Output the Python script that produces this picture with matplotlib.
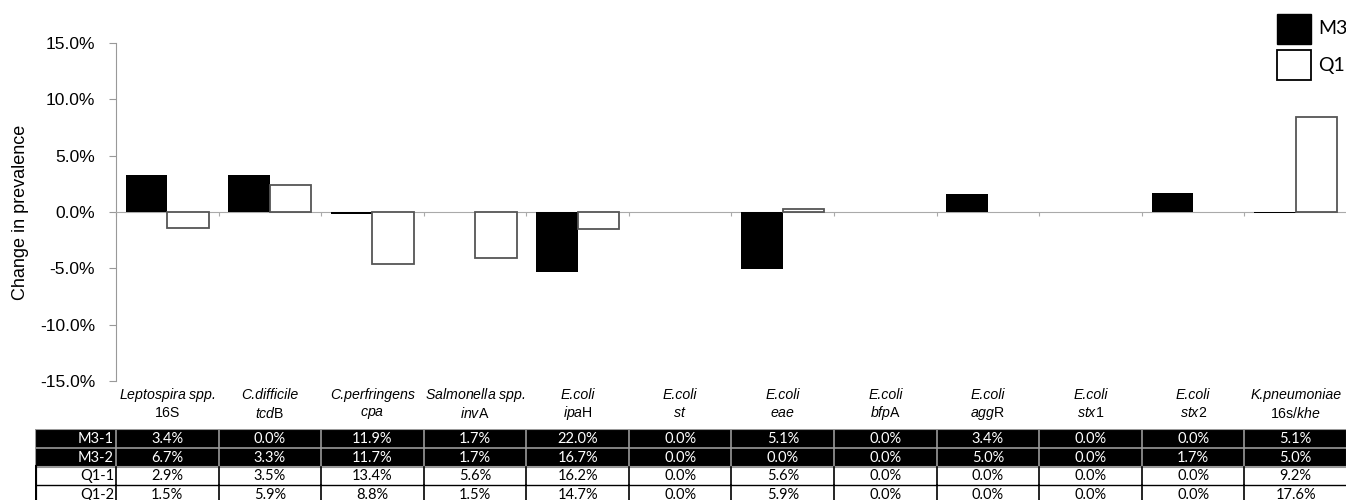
import numpy as np
import matplotlib.pyplot as plt
from matplotlib.patches import Rectangle

plt.rcParams['font.family'] = ['Liberation Sans', 'DejaVu Sans']
plt.rcParams['mathtext.fontset'] = 'custom'
plt.rcParams['mathtext.rm'] = 'Liberation Sans'
plt.rcParams['mathtext.it'] = 'Liberation Sans:italic'

# two-line labels: organism (italic) / target gene
organism = [r'$\mathit{Leptospira}$ spp.', 'C.difficile', 'C.perfringens',
            r'$\mathit{Salmonella}$ spp.', 'E.coli', 'E.coli', 'E.coli', 'E.coli',
            'E.coli', 'E.coli', 'E.coli', 'K.pneumoniae']
gene = ['16S', r'$\mathit{tcd}$B', r'$\mathit{cpa}$', r'$\mathit{inv}$A', r'$\mathit{ipa}$H',
        r'$\mathit{st}$', r'$\mathit{eae}$', r'$\mathit{bfp}$A', r'$\mathit{agg}$R',
        r'$\mathit{stx}$1', r'$\mathit{stx}$2', r'16s/$\mathit{khe}$']

# prevalence (%) per sampling round
m3_1 = [3.4, 0.0, 11.9, 1.7, 22.0, 0.0, 5.1, 0.0, 3.4, 0.0, 0.0, 5.1]
m3_2 = [6.7, 3.3, 11.7, 1.7, 16.7, 0.0, 0.0, 0.0, 5.0, 0.0, 1.7, 5.0]
q1_1 = [2.9, 3.5, 13.4, 5.6, 16.2, 0.0, 5.6, 0.0, 0.0, 0.0, 0.0, 9.2]
q1_2 = [1.5, 5.9, 8.8, 1.5, 14.7, 0.0, 5.9, 0.0, 0.0, 0.0, 0.0, 17.6]
row_names = ['M3-1', 'M3-2', 'Q1-1', 'Q1-2']

m3_change = np.round(np.array(m3_2) - np.array(m3_1), 1)
q1_change = np.round(np.array(q1_2) - np.array(q1_1), 1)

W, H = 1346, 500
fig = plt.figure(figsize=(W / 100, H / 100), dpi=100)
ax = fig.add_axes([116 / W, 119 / H, 1231 / W, 338 / H])

n = len(organism)
x = np.arange(n)
bw = 0.405
ax.bar(x - bw / 2, m3_change, bw, color='black', edgecolor='none', zorder=3)
q1_edges = ['none' if v == 0 else '#555555' for v in q1_change]
ax.bar(x + bw / 2, q1_change, bw, color='white', edgecolor=q1_edges, linewidth=1.3, zorder=3)

ax.set_xlim(-0.5, n - 0.5)
ax.set_ylim(-15, 15)
ax.set_yticks(np.arange(-15, 16, 5))
ax.set_yticklabels(['%.1f%%' % v for v in np.arange(-15, 16, 5)], fontsize=12.5)
ax.set_ylabel('Change in prevalence', fontsize=13, labelpad=8)
for s in ['top', 'right']:
    ax.spines[s].set_visible(False)
ax.spines['left'].set_color('#999999')
ax.spines['bottom'].set_color('#aaaaaa')
ax.spines['bottom'].set_position(('data', 0))
ax.set_xticks(np.arange(n + 1) - 0.5)
ax.set_xticklabels([])
ax.tick_params(axis='x', direction='out', length=3, color='#aaaaaa')
ax.tick_params(axis='y', direction='out', length=5, color='#999999', pad=10)

for i in range(n):
    ax.text(i, -0.04, organism[i], transform=ax.get_xaxis_transform(),
            ha='center', va='center', fontsize=10.2, style='italic')
    ax.text(i, -0.095, gene[i], transform=ax.get_xaxis_transform(),
            ha='center', va='center', fontsize=10.2)

# data table under the plot, columns lined up with the bar groups
unit = 1231 / n
tx0 = -0.5 - (116 - 35) / unit
tab = fig.add_axes([35 / W, -4 / H, (1347 - 35) / W, 75 / H])
tab.set_xlim(tx0, n - 0.5)
tab.set_ylim(4, 0)
tab.axis('off')
tab.add_patch(Rectangle((tx0, 0), n - 0.5 - tx0, 2, facecolor='black', edgecolor='#999999', lw=1.5))
rows = [m3_1, m3_2, q1_1, q1_2]
for r, vals in enumerate(rows):
    dark = r < 2
    fc = 'white' if dark else 'black'
    lc = '#999999' if dark else 'black'
    tab.text(-0.52, r + 0.52, row_names[r], ha='right', va='center', color=fc,
             fontsize=10.5, family='Lato')
    for c, v in enumerate(vals):
        tab.text(c, r + 0.52, '%.1f%%' % v, ha='center', va='center', color=fc,
                 fontsize=10.5, family='Lato')
    for c in range(n + 1):
        tab.plot([c - 0.5, c - 0.5], [r, r + 1], color=lc, lw=1.2)
tab.plot([tx0, n - 0.5], [1, 1], color='#999999', lw=1.2)
tab.plot([tx0, n - 0.5], [3, 3], color='black', lw=1.0)
tab.plot([tx0, tx0], [2, 4], color='black', lw=3)

# legend boxes, top right
fig.patches.append(Rectangle((1277 / W, 1 - 44 / H), 34 / W, 30 / H, transform=fig.transFigure,
                             facecolor='black', edgecolor='black'))
fig.patches.append(Rectangle((1277 / W, 1 - 80 / H), 34 / W, 30 / H, transform=fig.transFigure,
                             facecolor='white', edgecolor='black', lw=1.3))
fig.text(1318 / W, 1 - 29 / H, 'M3', fontsize=14, family='Lato', va='center')
fig.text(1318 / W, 1 - 65 / H, 'Q1', fontsize=14, family='Lato', va='center')

fig.savefig('out.png', dpi=100)
